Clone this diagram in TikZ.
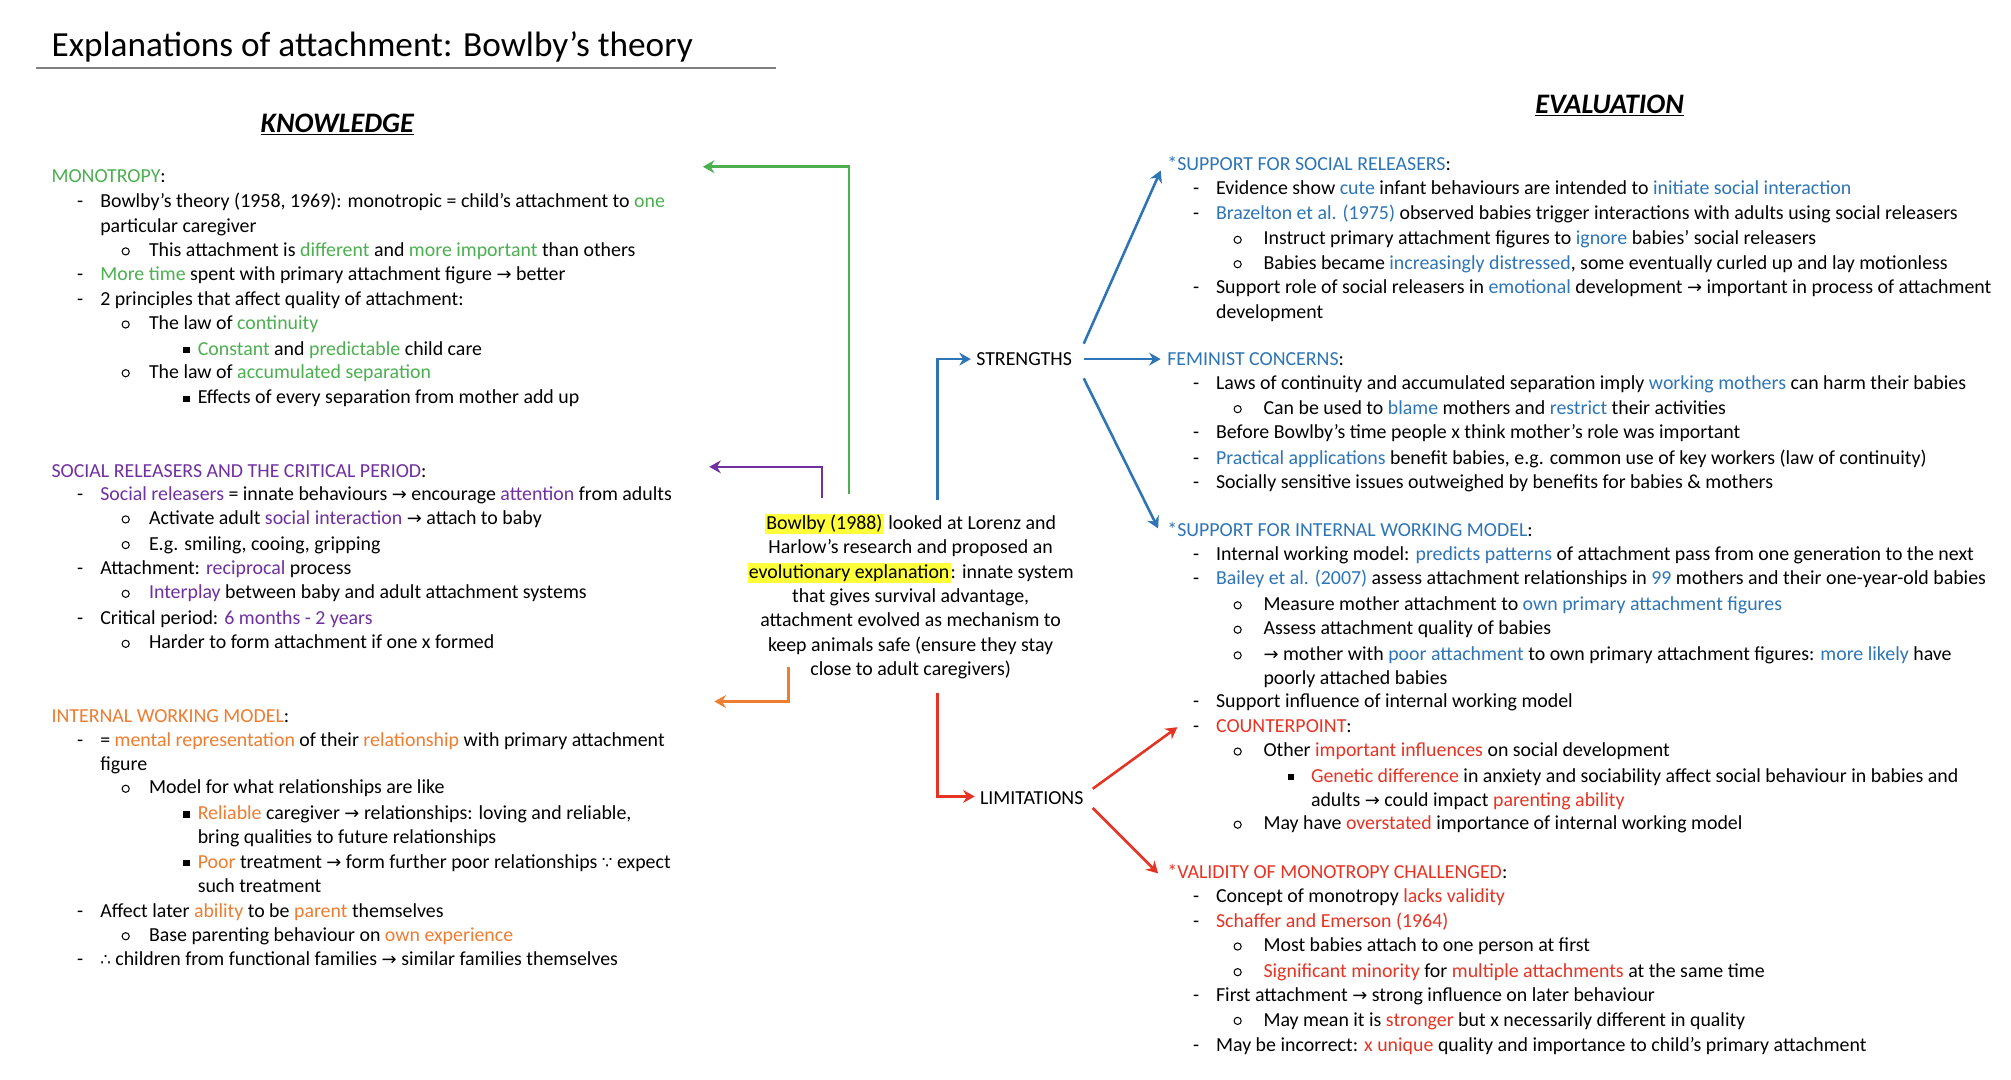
\documentclass[tikz,border=0pt]{standalone}
\usepackage{fontspec}
\setmainfont{Carlito}
\newfontfamily\dvs{DejaVu Sans}
\definecolor{cg}{HTML}{4CAF50}
\definecolor{cp}{HTML}{7030A0}
\definecolor{co}{HTML}{ED7D31}
\definecolor{cb}{HTML}{2E75B6}
\definecolor{cr}{HTML}{E53424}
\definecolor{hl}{HTML}{FFFF3A}
\newcommand\G[1]{\textcolor{cg}{#1}}
\newcommand\Pu[1]{\textcolor{cp}{#1}}
\newcommand\Or[1]{\textcolor{co}{#1}}
\newcommand\Bl[1]{\textcolor{cb}{#1}}
\newcommand\Rd[1]{\textcolor{cr}{#1}}
\newcommand\ar{{\dvs\fontsize{14}{16}\selectfont →}}
\newcommand\bec{{\dvs\fontsize{13}{16}\selectfont ∵}}
\newcommand\tfr{{\dvs\fontsize{13}{16}\selectfont ∴}}
\newcommand\HL[1]{{\setlength{\fboxsep}{1pt}\colorbox{hl}{#1}}}
\tikzset{txt/.style={anchor=base west,inner sep=0pt,font=\fontsize{15.5}{18}\selectfont},
 conn/.style={line width=2pt,-{Stealth[length=9pt,width=10pt]}}}
\usetikzlibrary{arrows.meta}
\newcommand\tl[3]{\node[txt] at (#1,#2+5) {#3};}
\newcommand\dl[4]{\node[txt] at (#1,#3+5) {-}; \node[txt] at (#2,#3+5) {#4};}
\newcommand\cl[4]{\draw[line width=0.8pt] (#1+3,#3+1) circle (2.8); \node[txt] at (#2,#3+5) {#4};}
\newcommand\sql[4]{\fill (#1,#3-1.5) rectangle ++(5,5); \node[txt] at (#2,#3+5) {#4};}
\begin{document}
\begin{tikzpicture}[x=1pt,y=-1pt]
\useasboundingbox[fill=white] (0,0) rectangle (1568,842);
% title
\node[txt,font=\fontsize{27.5}{32}\selectfont] (title) at (40,44) {Explanations of attachment: Bowlby's theory};
\draw[gray,line width=1pt] (28,53) -- (605,53);
\node[font=\fontsize{22}{26}\selectfont\bfseries\itshape,inner sep=0] (know) at (263,97) {\underline{KNOWLEDGE}};
\node[font=\fontsize{22}{26}\selectfont\bfseries\itshape,inner sep=0] (eval) at (1255,82) {\underline{EVALUATION}};
% left
\tl{40}{137}{\G{MONOTROPY}:}
\dl{60}{78}{157}{Bowlby's theory (1958, 1969): monotropic = child's attachment to \G{one}}
\tl{78}{176}{particular caregiver}
\cl{95}{116}{195}{This attachment is \G{different} and \G{more important} than others}
\dl{60}{78}{214}{\G{More time} spent with primary attachment figure \ar{} better}
\dl{60}{78}{233}{2 principles that affect quality of attachment:}
\cl{95}{116}{252}{The law of \G{continuity}}
\sql{143}{154}{272}{\G{Constant} and \G{predictable} child care}
\cl{95}{116}{290}{The law of \G{accumulated separation}}
\sql{143}{154}{310}{Effects of every separation from mother add up}
\tl{40}{367}{\Pu{SOCIAL RELEASERS AND THE CRITICAL PERIOD}:}
\dl{60}{78}{385}{\Pu{Social releasers} = innate behaviours \ar{} encourage \Pu{attention} from adults}
\cl{95}{116}{404}{Activate adult \Pu{social interaction} \ar{} attach to baby}
\cl{95}{116}{424}{E.g. smiling, cooing, gripping}
\dl{60}{78}{443}{Attachment: \Pu{reciprocal} process}
\cl{95}{116}{462}{\Pu{Interplay} between baby and adult attachment systems}
\dl{60}{78}{482}{Critical period: \Pu{6 months - 2 years}}
\cl{95}{116}{501}{Harder to form attachment if one x formed}
\tl{40}{558}{\Or{INTERNAL WORKING MODEL}:}
\dl{60}{78}{577}{= \Or{mental representation} of their \Or{relationship} with primary attachment}
\tl{78}{596}{figure}
\cl{95}{116}{614}{Model for what relationships are like}
\sql{143}{154}{634}{\Or{Reliable} caregiver \ar{} relationships: loving and reliable,}
\tl{154}{653}{bring qualities to future relationships}
\sql{143}{154}{672}{\Or{Poor} treatment \ar{} form further poor relationships \bec{} expect}
\tl{154}{691}{such treatment}
\dl{60}{78}{710}{Affect later \Or{ability} to be \Or{parent} themselves}
\cl{95}{116}{729}{Base parenting behaviour on \Or{own experience}}
\dl{60}{78}{748}{\tfr{} children from functional families \ar{} similar families themselves}
% centre
\node[align=center,inner sep=0pt,font=\fontsize{15.5}{19}\selectfont] (ctr) at (710,465) {\HL{Bowlby (1988)} looked at Lorenz and\\Harlow's research and proposed an\\\HL{evolutionary explanation}: innate system\\that gives survival advantage,\\attachment evolved as mechanism to\\keep animals safe (ensure they stay\\close to adult caregivers)};
\node[txt] (str) at (761,285) {STRENGTHS};
\node[txt] (lim) at (764,627) {LIMITATIONS};
\coordinate (gE) at (548,130); \coordinate (pE) at (553,364); \coordinate (oE) at (557,547);
\coordinate (sE) at (757,280); \coordinate (lE) at (760,621);
\draw[conn,cg] (662,385) -- (662,130) -- (gE);
\draw[conn,cp] (641,388) -- (641,364) -- (pE);
\draw[conn,co] (615,520) -- (615,547) -- (oE);
\draw[conn,cb] (731,390) -- (731,280) -- (sE);
\draw[conn,cr] (731,540) -- (731,621) -- (lE);
\coordinate (s1) at (905,133); \coordinate (s2) at (905,280); \coordinate (s3) at (903,412);
\coordinate (l1) at (918,567); \coordinate (l2) at (903,681);
\draw[conn,cb] (845,268) -- (s1);
\draw[conn,cb] (845,280) -- (s2);
\draw[conn,cb] (845,295) -- (s3);
\draw[conn,cr] (852,615) -- (l1);
\draw[conn,cr] (852,630) -- (l2);
% right
\tl{910}{128}{\Bl{*SUPPORT FOR SOCIAL RELEASERS}:}
\dl{930}{948}{147}{Evidence show \Bl{cute} infant behaviours are intended to \Bl{initiate social interaction}}
\dl{930}{948}{166}{\Bl{Brazelton et al. (1975)} observed babies trigger interactions with adults using social releasers}
\cl{962}{985}{186}{Instruct primary attachment figures to \Bl{ignore} babies' social releasers}
\cl{962}{985}{205}{Babies became \Bl{increasingly distressed}, some eventually curled up and lay motionless}
\dl{930}{948}{224}{Support role of social releasers in \Bl{emotional} development \ar{} important in process of attachment}
\tl{948}{243}{development}
\tl{910}{280}{\Bl{FEMINIST CONCERNS}:}
\dl{930}{948}{299}{Laws of continuity and accumulated separation imply \Bl{working mothers} can harm their babies}
\cl{962}{985}{318}{Can be used to \Bl{blame} mothers and \Bl{restrict} their activities}
\dl{930}{948}{337}{Before Bowlby's time people x think mother's role was important}
\dl{930}{948}{357}{\Bl{Practical applications} benefit babies, e.g. common use of key workers (law of continuity)}
\dl{930}{948}{376}{Socially sensitive issues outweighed by benefits for babies \& mothers}
\tl{910}{413}{\Bl{*SUPPORT FOR INTERNAL WORKING MODEL}:}
\dl{930}{948}{432}{Internal working model: \Bl{predicts patterns} of attachment pass from one generation to the next}
\dl{930}{948}{451}{\Bl{Bailey et al. (2007)} assess attachment relationships in \Bl{99} mothers and their one-year-old babies}
\cl{962}{985}{471}{Measure mother attachment to \Bl{own primary attachment figures}}
\cl{962}{985}{490}{Assess attachment quality of babies}
\cl{962}{985}{510}{\ar{} mother with \Bl{poor attachment} to own primary attachment figures: \Bl{more likely} have}
\tl{985}{529}{poorly attached babies}
\dl{930}{948}{547}{Support influence of internal working model}
\dl{930}{948}{566}{\Rd{COUNTERPOINT}:}
\cl{962}{985}{585}{Other \Rd{important influences} on social development}
\sql{1004}{1022}{605}{\Rd{Genetic difference} in anxiety and sociability affect social behaviour in babies and}
\tl{1022}{624}{adults \ar{} could impact \Rd{parenting ability}}
\cl{962}{985}{642}{May have \Rd{overstated} importance of internal working model}
\tl{910}{680}{\Rd{*VALIDITY OF MONOTROPY CHALLENGED}:}
\dl{930}{948}{699}{Concept of monotropy \Rd{lacks validity}}
\dl{930}{948}{718}{\Rd{Schaffer and Emerson (1964)}}
\cl{962}{985}{737}{Most babies attach to one person at first}
\cl{962}{985}{757}{\Rd{Significant minority} for \Rd{multiple attachments} at the same time}
\dl{930}{948}{776}{First attachment \ar{} strong influence on later behaviour}
\cl{962}{985}{795}{May mean it is \Rd{stronger} but x necessarily different in quality}
\dl{930}{948}{815}{May be incorrect: \Rd{x unique} quality and importance to child's primary attachment}
\end{tikzpicture}
\end{document}
